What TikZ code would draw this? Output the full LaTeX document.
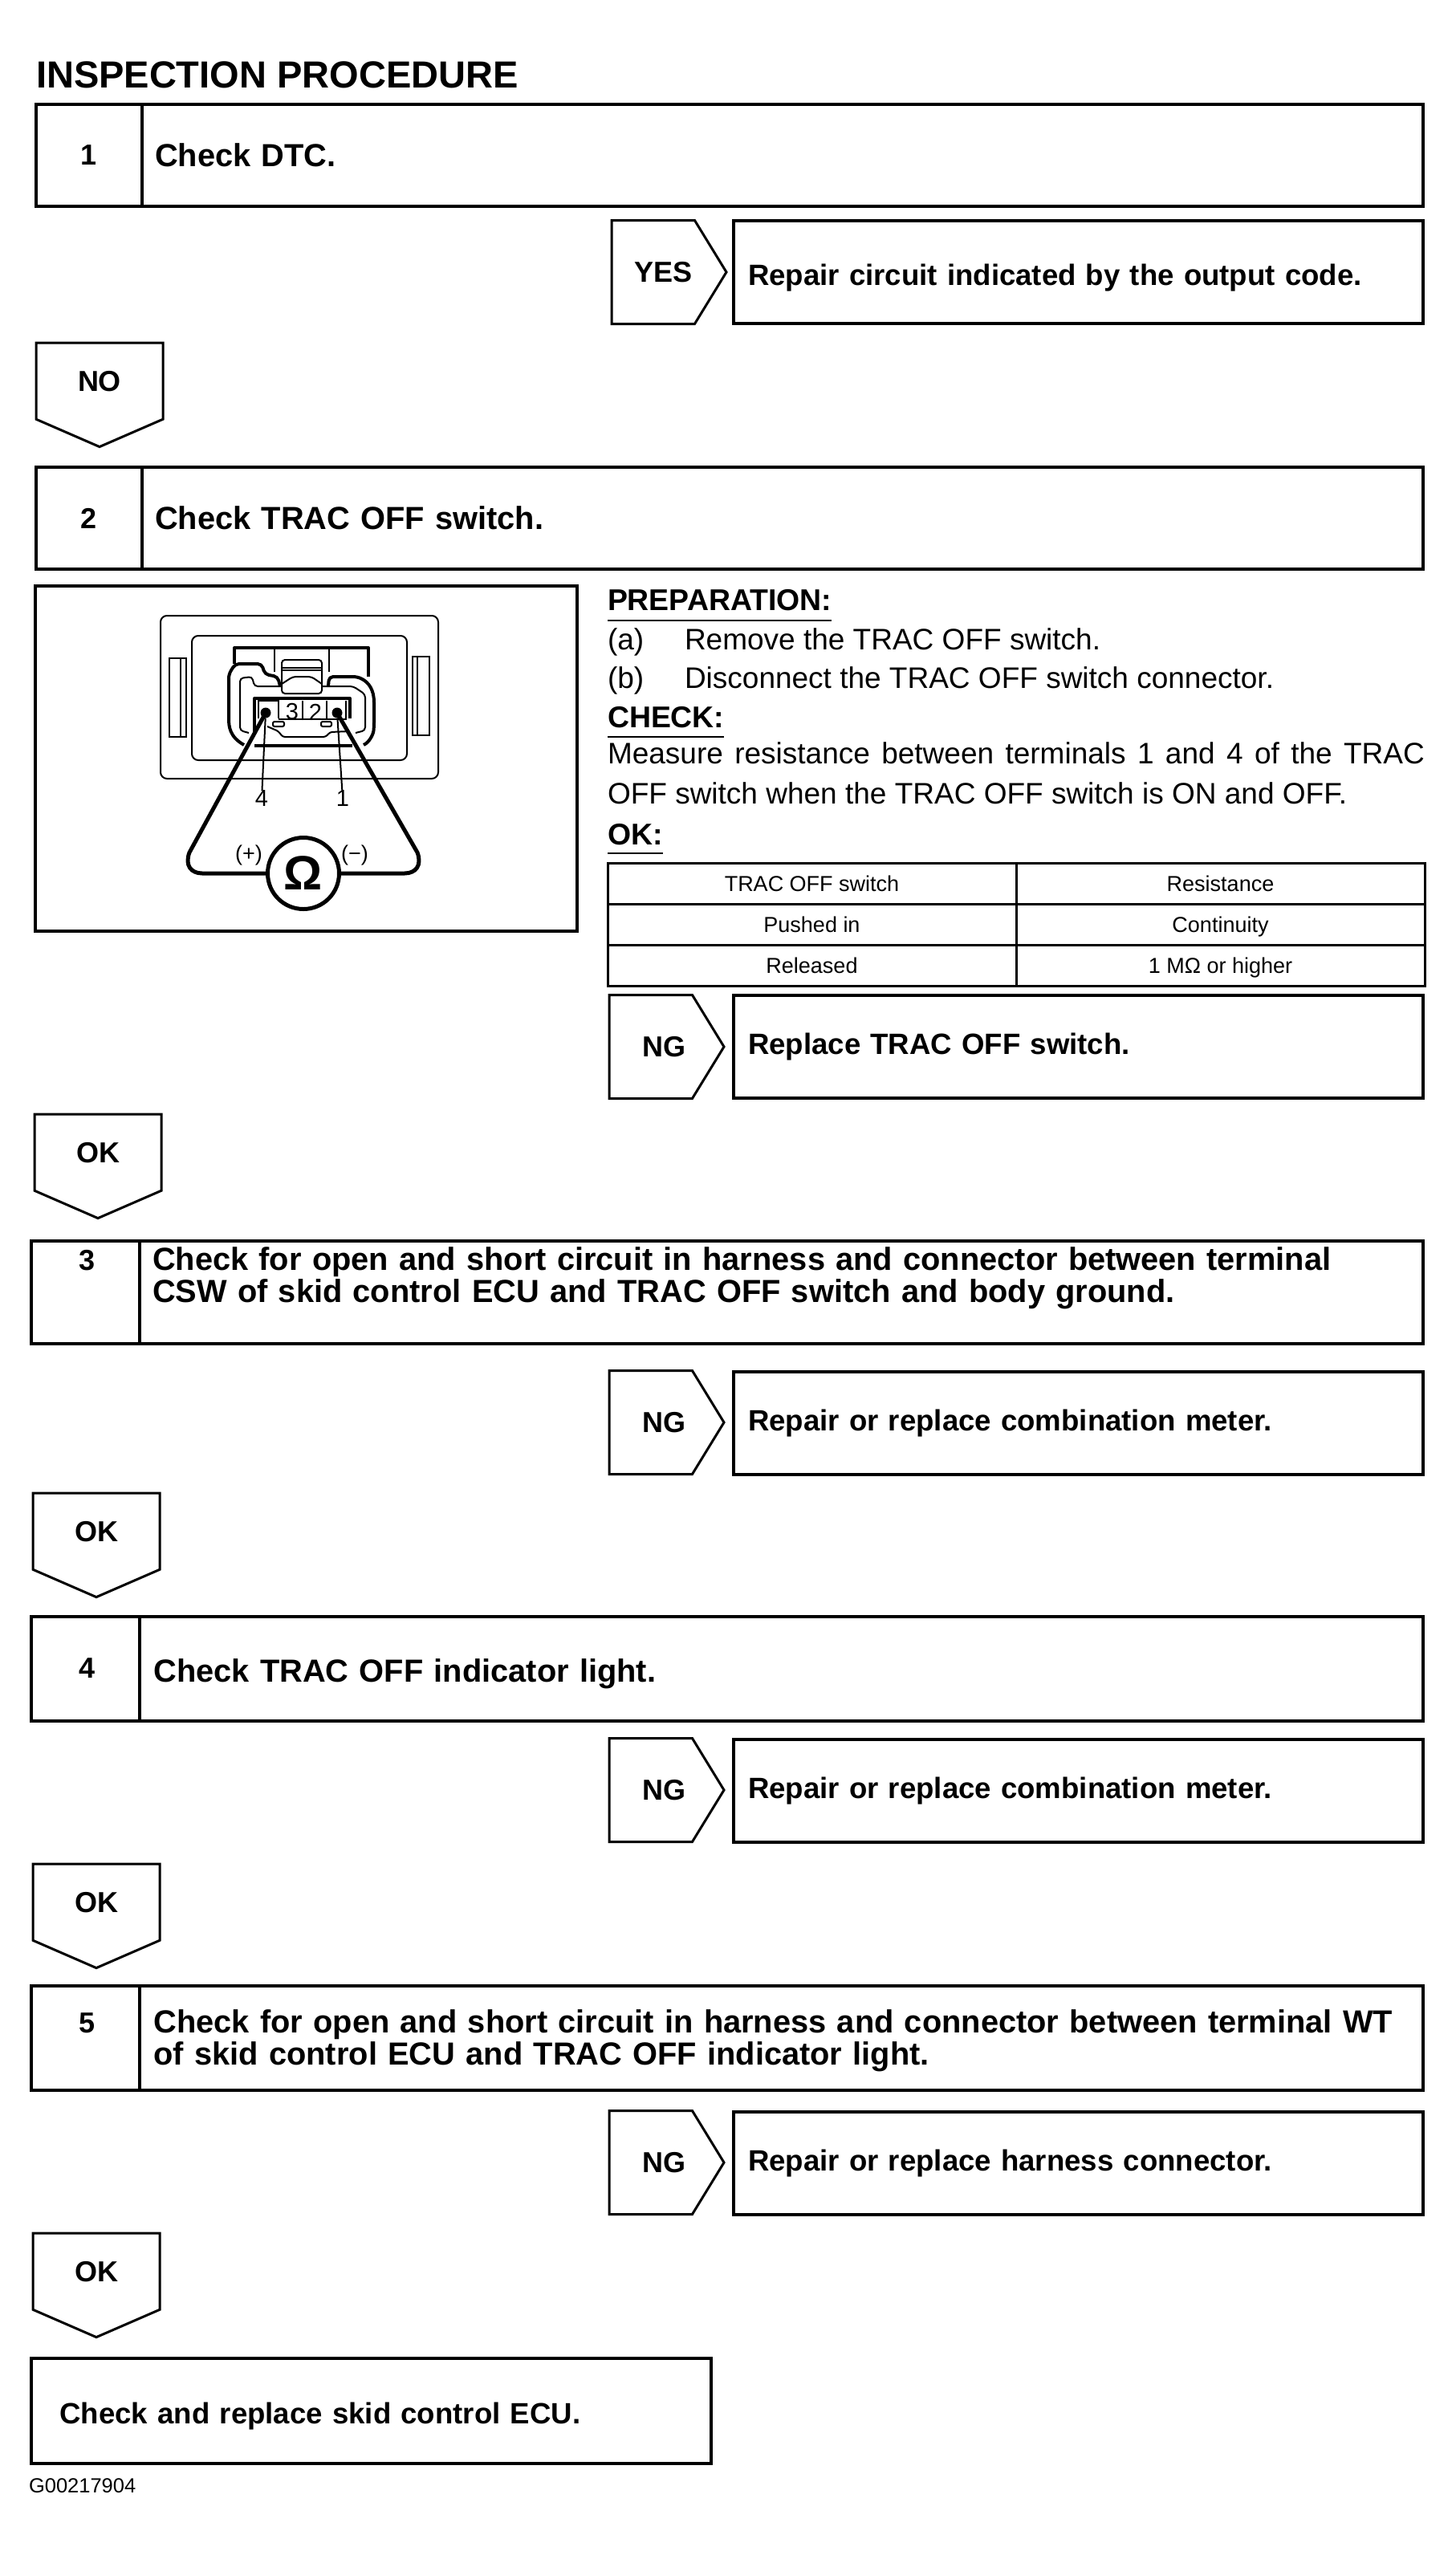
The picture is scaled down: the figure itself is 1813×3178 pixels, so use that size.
\documentclass[tikz,border=0pt]{standalone}
\usepackage{fontspec}
\setmainfont{Liberation Sans}
\usetikzlibrary{positioning,shapes.symbols}
\begin{document}
\begin{tikzpicture}[
        x=1pt, y=-1pt,
        every node/.style={outer sep=0pt, inner sep=0pt},
        numbox/.style={draw, line width=3.2pt, minimum width=132pt, minimum height=127pt, font=\fontsize{36}{40}\selectfont\bfseries},
        numlabel/.style={font=\fontsize{36}{40}\selectfont\bfseries},
        stepbox/.style={draw, line width=3.2pt, minimum height=127pt, minimum width=1596pt, text width=1564pt, align=left, font=\fontsize{39.8}{40}\selectfont\bfseries},
        steptext/.style={anchor=north west, text width=1570pt, align=left, font=\fontsize{39.8}{40}\selectfont\bfseries},
        actbox/.style={draw, line width=3.2pt, minimum height=128pt, minimum width=859pt, text width=823pt, align=left, font=\fontsize{36.6}{40}\selectfont\bfseries},
        tagright/.style={draw, line width=3pt, signal, signal to=east, signal pointer angle=117, minimum height=129pt, minimum width=143pt, font=\fontsize{36}{40}\selectfont\bfseries},
        tagdown/.style={draw, line width=3pt, signal, signal to=south, signal pointer angle=133, minimum width=158pt, minimum height=107pt, font=\fontsize{36}{40}\selectfont\bfseries},
        heading/.style={font=\fontsize{37.4}{40}\selectfont\bfseries},
        bodytext/.style={font=\fontsize{37}{50}\selectfont},
        cell/.style={draw, line width=3pt, minimum width=509pt, minimum height=51pt, text height=23pt, text depth=3pt, font=\fontsize{27}{30}\selectfont},
        rule/.style={line width=2pt},
        wire/.style={line width=5pt, line join=round},
        part/.style={line width=2pt},
        partthick/.style={line width=4pt, line join=round},
        pin/.style={circle, fill=black, minimum size=13pt},
        termlabel/.style={font=\fontsize{29}{30}\selectfont}
      ]
        \useasboundingbox (0,0) rectangle (1813,3178);
        \node[anchor=base west, font=\fontsize{47}{50}\selectfont\bfseries] (title) at (45,109) {INSPECTION PROCEDURE};

        % step 1
        \node[numbox, anchor=north west] (num1) at (45,130) {1};
        \node[stepbox, right=0pt of num1] (step1) {Check DTC.};
        \node[tagright, anchor=west] (yes1) at (762,339) {\hspace*{26pt}YES};
        \node[actbox, anchor=north west] (act1) at (914,275) {\rule{0pt}{40pt}Repair circuit indicated by the output code.};
        \node[tagdown, anchor=north] (no1) at (124,427) {NO};

        % step 2
        \node[numbox, anchor=north west] (num2) at (45,582) {2};
        \node[stepbox, right=0pt of num2] (step2) {Check TRAC OFF switch.};

        % switch picture
        \node[draw, line width=3.2pt, minimum width=675pt, minimum height=430pt, anchor=north west] (frame) at (44,730) {};
        \draw[part, rounded corners=8pt] (200,767) rectangle (546,970);
        \draw[part, rounded corners=8pt] (239,792) rectangle (507,947);
        \draw[part] (211,820) rectangle (232,918) (225,820) -- (225,918);
        \draw[part] (514,818) rectangle (535,916) (520,818) -- (520,916);
        \draw[partthick] (292,827) -- (292,807) -- (459,807) -- (459,843);
        \draw[part] (342,807) -- (342,837) (410,807) -- (410,837);
        \draw[partthick, rounded corners=5pt] (304,928) .. controls (286,918) and (285,905) .. (285,890) -- (285,840) -- (293,827) -- (326,827) -- (330,840) -- (346,843) -- (349,855);
        \draw[partthick, rounded corners=5pt] (409,855) -- (410,843) -- (445,843) .. controls (460,850) and (466,860) .. (466,880) -- (466,905) .. controls (465,915) and (460,925) .. (453,928);
        \draw[part, rounded corners=4pt] (310,913) -- (299,910) -- (299,845) -- (314,843) -- (317,855) -- (440,855) -- (455,865) -- (455,910) -- (443,913);
        \draw[part, fill=white, rounded corners=4pt] (351,822) rectangle (401,864);
        \draw[part] (351,832) -- (401,832) (351,835) -- (401,835);
        \draw[part, rounded corners=4pt] (351,852) -- (365,843) -- (388,843) -- (401,852);
        \draw[partthick] (317,915) -- (317,870) -- (436,870) -- (436,895);
        \draw[part] (322,895) -- (322,873) -- (347,873) -- (347,895) (377,873) -- (377,896) (407,873) -- (407,896) -- (431,896) -- (431,873);
        \draw[part] (347,896) -- (407,896);
        \draw[part, fill=white, rounded corners=2pt] (340,899) rectangle (354,905);
        \draw[part, fill=white, rounded corners=2pt] (400,899) rectangle (413,905);
        \draw[part, rounded corners=3pt] (333,905) -- (347,911) -- (352,918) -- (406,918) -- (411,912) -- (436,911);
        \draw[partthick] (317,929) -- (439,929);
        \node[pin] (pin4) at (331,888) {};
        \node[pin] (pin1) at (420,888) {};
        \node[termlabel] (lab3) at (364,887) {3};
        \node[termlabel] (lab2) at (393,887) {2};
        \node[termlabel] (lab4) at (326,995) {4};
        \node[termlabel] (lab1) at (427,995) {1};
        \node[font=\fontsize{27}{30}\selectfont] (plus) at (310,1065) {(+)};
        \node[font=\fontsize{27}{30}\selectfont] (minus) at (442,1065) {(−)};
        \node[circle, draw, line width=5pt, minimum size=89pt, font=\fontsize{60}{60}\selectfont\bfseries] (meter) at (378,1088) {Ω};
        \draw[part] (pin4) -- (lab4);
        \draw[part] (pin1) -- (lab1);
        \draw[wire] (pin4.center) -- (236,1062) .. controls (230,1078) and (238,1088) .. (252,1088) -- (meter.west);
        \draw[wire] (pin1.center) -- (520,1062) .. controls (526,1078) and (518,1088) .. (504,1088) -- (meter.east);

        % preparation text
        \node[heading, anchor=base west] (prep) at (757,760) {PREPARATION:};
        \draw[rule] ([yshift=-13pt]prep.base west) -- ([yshift=-13pt]prep.base east);
        \node[bodytext, anchor=base west] (ita) at (757,809) {(a)};
        \node[bodytext, anchor=base west] (texta) at (853,809) {Remove the TRAC OFF switch.};
        \node[bodytext, anchor=base west] (itb) at (757,857) {(b)};
        \node[bodytext, anchor=base west] (textb) at (853,857) {Disconnect the TRAC OFF switch connector.};
        \node[heading, anchor=base west] (check) at (757,906) {CHECK:};
        \draw[rule] ([yshift=-12pt]check.base west) -- ([yshift=-12pt]check.base east);
        \node[bodytext, anchor=north west, text width=1018pt, align=justify] (measure) at (757,925) {Measure resistance between terminals 1 and 4 of the TRAC OFF switch when the TRAC OFF switch is ON and OFF.};
        \node[heading, anchor=base west] (okhead) at (757,1052) {OK:};
        \draw[rule] ([yshift=-11pt]okhead.base west) -- ([yshift=-11pt]okhead.base east);

        % table
        \node[cell, anchor=north west] (c11) at (757,1075) {TRAC OFF switch};
        \node[cell, right=0pt of c11] (c12) {Resistance};
        \node[cell, below=0pt of c11] (c21) {Pushed in};
        \node[cell, right=0pt of c21] (c22) {Continuity};
        \node[cell, below=0pt of c21] (c31) {Released};
        \node[cell, right=0pt of c31] (c32) {1 MΩ or higher};

        \node[tagright, anchor=west] (ng2) at (759,1304) {\hspace*{33pt}NG};
        \node[actbox, anchor=north west] (act2) at (914,1240) {Replace TRAC OFF switch.};
        \node[tagdown, anchor=north] (ok2) at (122,1388) {OK};

        % step 3
        \node[numbox, anchor=north west, minimum width=135pt, minimum height=128pt] (num3) at (39,1546) {};
        \node[stepbox, right=0pt of num3, minimum width=1599pt, minimum height=128pt] (step3) {};
        \node[numlabel] (lab3n) at (109,1570) {3};
        \node[steptext] (text3) at (190,1554) {Check for open and short circuit in harness and connector between terminal\\CSW of skid control ECU and TRAC OFF switch and body ground.};
        \node[tagright, anchor=west] (ng3) at (759,1772) {\hspace*{33pt}NG};
        \node[actbox, anchor=north west] (act3) at (914,1709) {Repair or replace combination meter.};
        \node[tagdown, anchor=north] (ok3) at (120,1860) {OK};

        % step 4
        \node[numbox, anchor=north west, minimum width=135pt, minimum height=130pt] (num4) at (39,2014) {};
        \node[numlabel] (lab4n) at (109,2078) {4};
        \node[stepbox, right=0pt of num4, minimum width=1599pt, minimum height=130pt] (step4) {\rule{0pt}{42pt}Check TRAC OFF indicator light.};
        \node[tagright, anchor=west] (ng4) at (759,2230) {\hspace*{33pt}NG};
        \node[actbox, anchor=north west] (act4) at (914,2167) {Repair or replace combination meter.};
        \node[tagdown, anchor=north] (ok4) at (120,2322) {OK};

        % step 5
        \node[numbox, anchor=north west, minimum width=135pt, minimum height=130pt] (num5) at (39,2474) {};
        \node[stepbox, right=0pt of num5, minimum width=1599pt, minimum height=130pt] (step5) {};
        \node[numlabel] (lab5n) at (109,2520) {5};
        \node[steptext] (text5) at (191.5,2504) {Check for open and short circuit in harness and connector between terminal WT\\of skid control ECU and TRAC OFF indicator light.};
        \node[tagright, anchor=west] (ng5) at (759,2694) {\hspace*{33pt}NG};
        \node[actbox, anchor=north west] (act5) at (914,2631) {Repair or replace harness connector.};
        \node[tagdown, anchor=north] (ok5) at (120,2782) {OK};

        % last box
        \node[actbox, anchor=north west, minimum width=847pt, minimum height=131pt, text width=776pt] (last) at (39,2938) {\rule{0pt}{40pt}Check and replace skid control ECU.};
        \node[anchor=base west, font=\fontsize{25.5}{28}\selectfont] (figno) at (36,3105) {G00217904};
      \end{tikzpicture}
\end{document}
